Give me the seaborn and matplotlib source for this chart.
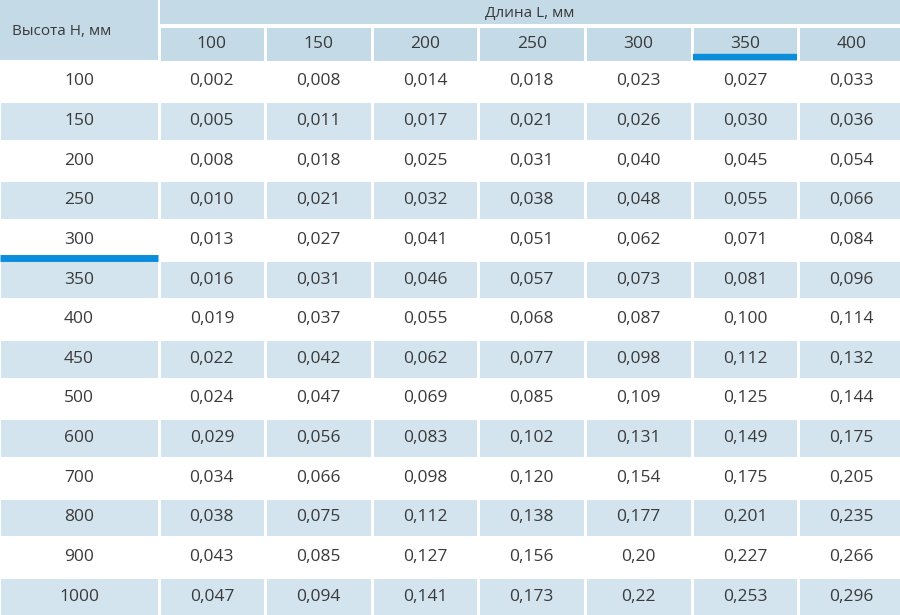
import numpy as np
import pandas as pd
import matplotlib
matplotlib.use("Agg")
import matplotlib.pyplot as plt
import seaborn as sns
from matplotlib.colors import ListedColormap

# ------------------------
# DADOS
# ------------------------
heights = [100, 150, 200, 250, 300, 350, 400, 450, 500, 600, 700, 800, 900, 1000]
lengths = [100, 150, 200, 250, 300, 350, 400]

l100 = ["0,002", "0,005", "0,008", "0,010", "0,013", "0,016", "0,019",
        "0,022", "0,024", "0,029", "0,034", "0,038", "0,043", "0,047"]
l150 = ["0,008", "0,011", "0,018", "0,021", "0,027", "0,031", "0,037",
        "0,042", "0,047", "0,056", "0,066", "0,075", "0,085", "0,094"]
l200 = ["0,014", "0,017", "0,025", "0,032", "0,041", "0,046", "0,055",
        "0,062", "0,069", "0,083", "0,098", "0,112", "0,127", "0,141"]
l250 = ["0,018", "0,021", "0,031", "0,038", "0,051", "0,057", "0,068",
        "0,077", "0,085", "0,102", "0,120", "0,138", "0,156", "0,173"]
l300 = ["0,023", "0,026", "0,040", "0,048", "0,062", "0,073", "0,087",
        "0,098", "0,109", "0,131", "0,154", "0,177", "0,20", "0,22"]
l350 = ["0,027", "0,030", "0,045", "0,055", "0,071", "0,081", "0,100",
        "0,112", "0,125", "0,149", "0,175", "0,201", "0,227", "0,253"]
l400 = ["0,033", "0,036", "0,054", "0,066", "0,084", "0,096", "0,114",
        "0,132", "0,144", "0,175", "0,205", "0,235", "0,266", "0,296"]

row_title = "Высота H, мм"
col_title = "Длина L, мм"
sel_height = 300
sel_length = 350

# ------------------------
# ESTILO
# ------------------------
sns.set_theme(style="white")
plt.rcParams["font.family"] = ["Open Sans", "DejaVu Sans"]

HEADER = "#c4dae6"
STRIPE = "#d3e4ee"
WHITE = "#ffffff"
TEXT = "#3a3a3a"
BLUE = "#0a8edb"
FS = 12.5

W, H = 900, 615
fig = plt.figure(figsize=(9, 6.15), dpi=100)
fig.patch.set_facecolor("white")


def px_axes(x0, y0, x1, y1):
    # caixa em pixels (origem no topo) -> axes
    return fig.add_axes([x0 / W, 1 - y1 / H, (x1 - x0) / W, (y1 - y0) / H])


values = pd.DataFrame(
    {L: col for L, col in zip(lengths, [l100, l150, l200, l250, l300, l350, l400])},
    index=heights,
)
stripe = np.array([[i % 2] * len(lengths) for i in range(len(heights))])
cmap_rows = ListedColormap([WHITE, STRIPE])
lw = 2.0
half = 1.5
row_top = 61.5
row_bot = H + half
col_left = 158.5
col_right = 905.0

# coluna das alturas
ax_h = px_axes(-half, row_top, 159.5, row_bot)
sns.heatmap(stripe[:, :1], ax=ax_h, cmap=cmap_rows, vmin=0, vmax=1, cbar=False,
            annot=np.array([[str(h)] for h in heights]), fmt="",
            annot_kws={"fontsize": FS, "color": TEXT},
            linewidths=lw, linecolor="white", xticklabels=False, yticklabels=False)

# valores
ax_v = px_axes(col_left, row_top, col_right, row_bot)
sns.heatmap(stripe, ax=ax_v, cmap=cmap_rows, vmin=0, vmax=1, cbar=False,
            annot=values.values, fmt="",
            annot_kws={"fontsize": FS, "color": TEXT},
            linewidths=lw, linecolor="white", xticklabels=False, yticklabels=False)

# cabeçalho das colunas
ax_c = px_axes(col_left, 25.5, col_right, row_top)
sns.heatmap(np.zeros((1, len(lengths))), ax=ax_c, cmap=ListedColormap([HEADER]),
            cbar=False, annot=np.array([[str(L) for L in lengths]]), fmt="",
            annot_kws={"fontsize": FS, "color": TEXT},
            linewidths=lw, linecolor="white", xticklabels=False, yticklabels=False)

# título das colunas
ax_t = px_axes(160, 0, W, 24)
ax_t.set_facecolor(HEADER)
ax_t.text(0.5, 0.45, col_title, ha="center", va="center", fontsize=11,
          color=TEXT, transform=ax_t.transAxes)

# título das linhas
ax_r = px_axes(0, 0, 158, 60)
ax_r.set_facecolor(HEADER)
ax_r.text(12 / 158, 0.47, row_title, ha="left", va="center", fontsize=11,
          color=TEXT, transform=ax_r.transAxes)

for a in (ax_t, ax_r):
    a.set_xticks([])
    a.set_yticks([])
    for s in a.spines.values():
        s.set_visible(False)

# marcadores azuis da seleção
i = heights.index(sel_height)
ax_h.plot([0.01, 0.99], [i + 0.945, i + 0.945], color=BLUE, lw=5,
          solid_capstyle="butt", clip_on=False, zorder=5)
j = lengths.index(sel_length)
ax_c.plot([j + 0.015, j + 0.985], [0.88, 0.88], color=BLUE, lw=4.6,
          solid_capstyle="butt", clip_on=False, zorder=5)

plt.savefig("out.png", dpi=100, facecolor="white")
plt.close()
